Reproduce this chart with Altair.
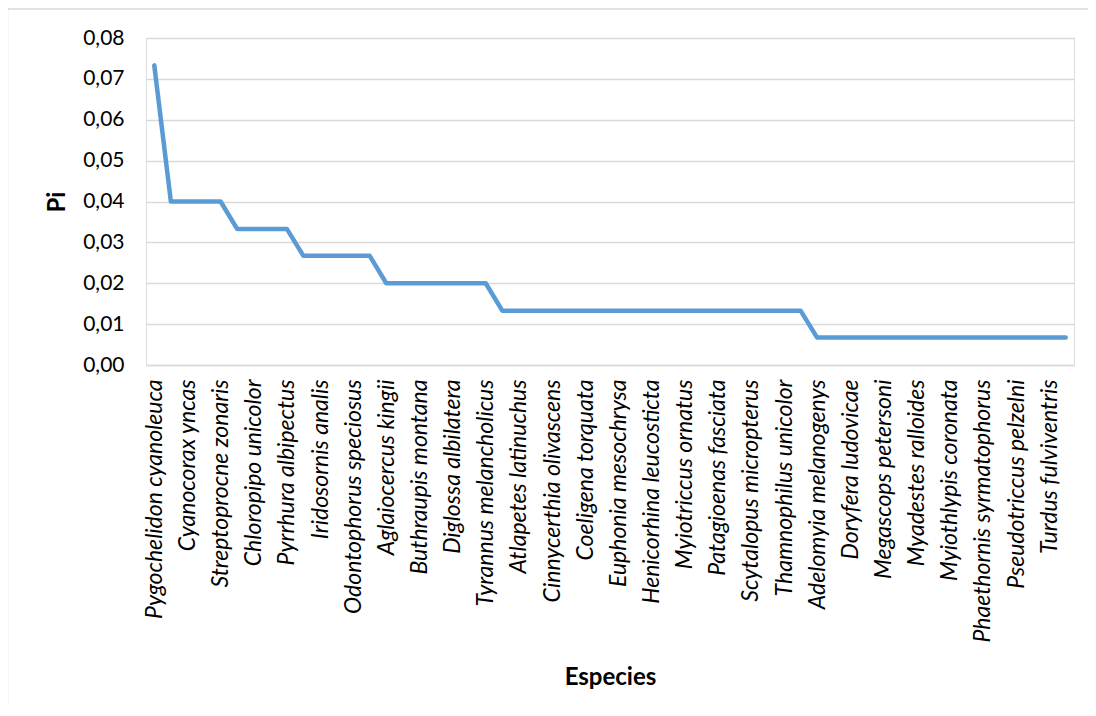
import json
import altair as alt
import pandas as pd

# Labelled species (Excel shows every other category label)
shown_labels = [
    "Pygochelidon cyanoleuca", "Cyanocorax yncas", "Streptoprocne zonaris",
    "Chloropipo unicolor", "Pyrrhura albipectus", "Iridosornis analis",
    "Odontophorus speciosus", "Aglaiocercus kingii", "Buthraupis montana",
    "Diglossa albilatera", "Tyrannus melancholicus", "Atlapetes latinuchus",
    "Cinnycerthia olivascens", "Coeligena torquata", "Euphonia mesochrysa",
    "Henicorhina leucosticta", "Myiotriccus ornatus", "Patagioenas fasciata",
    "Scytalopus micropterus", "Thamnophilus unicolor", "Adelomyia melanogenys",
    "Doryfera ludovicae", "Megascops petersoni", "Myadestes ralloides",
    "Myiothlypis coronata", "Phaethornis syrmatophorus", "Pseudotriccus pelzelni",
    "Turdus fulviventris",
]

# Pi value of each of the 56 species, in rank order
pi_values = [
    0.0733,
    0.0400, 0.0400, 0.0400, 0.0400,
    0.0333, 0.0333, 0.0333, 0.0333,
    0.0267, 0.0267, 0.0267, 0.0267, 0.0267,
    0.0200, 0.0200, 0.0200, 0.0200, 0.0200, 0.0200, 0.0200,
    0.0133, 0.0133, 0.0133, 0.0133, 0.0133, 0.0133, 0.0133, 0.0133, 0.0133, 0.0133,
    0.0133, 0.0133, 0.0133, 0.0133, 0.0133, 0.0133, 0.0133, 0.0133, 0.0133,
    0.0067, 0.0067, 0.0067, 0.0067, 0.0067, 0.0067, 0.0067, 0.0067,
    0.0067, 0.0067, 0.0067, 0.0067, 0.0067, 0.0067, 0.0067, 0.0067,
]

y_ticks = [0.00, 0.01, 0.02, 0.03, 0.04, 0.05, 0.06, 0.07, 0.08]

df = pd.DataFrame({"rank": list(range(len(pi_values))), "pi": pi_values})
tick_positions = [2 * i for i in range(len(shown_labels))]
label_expr = "[" + ",".join(json.dumps(s) for s in shown_labels) + "][datum.value/2]"

FONT = "Lato"
W, H = 928, 327

line = alt.Chart(df).mark_line(color="#5B9BD5", strokeWidth=4.5, strokeJoin="round", strokeCap="round").encode(
    x=alt.X("rank:Q",
            scale=alt.Scale(domain=[-0.5, len(pi_values) - 0.5], nice=False, zero=False),
            axis=alt.Axis(values=tick_positions, labelExpr=label_expr, labelAngle=-90,
                          labelAlign="right", labelBaseline="middle", labelPadding=14,
                          labelFont=FONT, labelFontSize=23, labelFontStyle="italic",
                          labelColor="#000000", labelLimit=0, ticks=False, domain=True,
                          domainColor="#D9D9D9", domainWidth=1.3, grid=False,
                          labelOverlap=False, labelBound=False, labelFlush=False,
                          title="Especies", titleFont=FONT, titleFontSize=24, titleFontWeight="bold",
                          titleColor="#000000", titleY=312, titleBaseline="middle")),
    y=alt.Y("pi:Q",
            scale=alt.Scale(domain=[0, 0.08], nice=False),
            axis=alt.Axis(values=y_ticks, labelExpr="replace(format(datum.value, '.2f'), '.', ',')",
                          labelFont=FONT, labelFontSize=21, labelColor="#000000", labelPadding=22,
                          ticks=False, domain=False, grid=True, gridColor="#D9D9D9", gridWidth=1.3,
                          title="Pi", titleFont=FONT, titleFontSize=24, titleFontWeight="bold",
                          titleColor="#000000", titleX=-88.5, titleY=H / 2, titleAngle=-90,
                          titleAlign="center", titleBaseline="middle")),
)

frame = alt.Chart(pd.DataFrame({"k": [0]})).mark_rect(fill=None, stroke="#D9D9D9", strokeWidth=1.5).encode(
    x=alt.value(-138.5), x2=alt.value(1096 - 146 + 20),
    y=alt.value(-29), y2=alt.value(716 - 38 + 20),
)

chart = alt.layer(frame, line).properties(
    width=W, height=H,
    autosize=alt.AutoSizeParams(type="none"),
    padding={"left": 138, "top": 30, "right": 14, "bottom": 340},
).configure_view(stroke=None).configure(background="#FFFFFF")

chart.save("out.html", embed_options={"renderer": "svg", "actions": False})
